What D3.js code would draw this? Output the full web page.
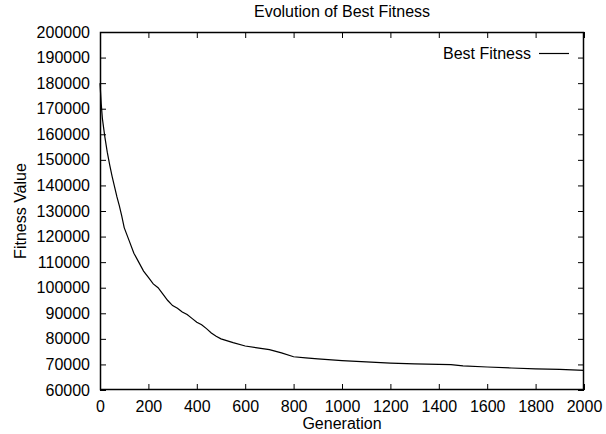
<!DOCTYPE html>
<html>
<head>
<meta charset="utf-8">
<script src="https://cdn.jsdelivr.net/npm/d3@7"></script>
<style>
  html, body { margin: 0; padding: 0; background: #fff; }
  svg { display: block; }
  text { font-family: "Liberation Sans", Arial, Helvetica, sans-serif; fill: #000; }
</style>
</head>
<body>
<div id="chart"></div>
<script>
// Best fitness per generation
var generations = [0, 5, 10, 20, 30, 40, 50, 60, 70, 80, 90, 100, 120, 140, 160, 180, 200,
  220, 240, 260, 280, 300, 320, 340, 360, 380, 400, 420, 440, 460, 480, 500, 550, 600,
  650, 700, 750, 800, 850, 900, 1000, 1100, 1200, 1300, 1400, 1450, 1500, 1600, 1700,
  1800, 1900, 2000];
var bestFitness = [180000, 172000, 166000, 159000, 153000, 148000, 143500, 139500, 135500,
  132000, 128000, 123500, 118500, 113500, 110000, 106500, 104000, 101500, 100000, 97500,
  95000, 93000, 92000, 90500, 89500, 88000, 86500, 85500, 84000, 82300, 81000, 80000,
  78500, 77200, 76500, 75800, 74500, 73000, 72600, 72200, 71500, 71000, 70500, 70200,
  70000, 69900, 69400, 69000, 68600, 68300, 68100, 67700];

var xTicks = [0, 200, 400, 600, 800, 1000, 1200, 1400, 1600, 1800, 2000];
var yTicks = [60000, 70000, 80000, 90000, 100000, 110000, 120000, 130000, 140000,
  150000, 160000, 170000, 180000, 190000, 200000];

var width = 606, height = 434;
var margin = { left: 100, right: 22, top: 32, bottom: 44 };
var plotW = width - margin.left - margin.right;
var plotH = height - margin.top - margin.bottom;

var svg = d3.select("#chart").append("svg")
  .attr("width", width)
  .attr("height", height);

var x = d3.scaleLinear().domain([0, 2000]).range([margin.left, margin.left + plotW]);
var y = d3.scaleLinear().domain([60000, 200000]).range([margin.top + plotH, margin.top]);

var fontSize = "16px";

// bottom axis with labels, ticks pointing inward
var xAxis = svg.append("g")
  .attr("transform", "translate(0," + (margin.top + plotH) + ")")
  .call(d3.axisBottom(x).tickValues(xTicks).tickFormat(d3.format("d"))
    .tickSizeInner(-6).tickSizeOuter(0).tickPadding(11));
// top mirror ticks
var xTop = svg.append("g")
  .attr("transform", "translate(0," + margin.top + ")")
  .call(d3.axisTop(x).tickValues(xTicks).tickFormat("")
    .tickSizeInner(-6).tickSizeOuter(0));

var yAxis = svg.append("g")
  .attr("transform", "translate(" + margin.left + ",0)")
  .call(d3.axisLeft(y).tickValues(yTicks).tickFormat(d3.format("d"))
    .tickSizeInner(-6).tickSizeOuter(0).tickPadding(10));
var yRight = svg.append("g")
  .attr("transform", "translate(" + (margin.left + plotW) + ",0)")
  .call(d3.axisRight(y).tickValues(yTicks).tickFormat("")
    .tickSizeInner(-6).tickSizeOuter(0));

[xAxis, xTop, yAxis, yRight].forEach(function(g) {
  g.select(".domain").remove();
  g.selectAll("line").attr("stroke", "#000").attr("stroke-width", 1);
  g.selectAll("text").attr("font-size", fontSize)
    .attr("font-family", "'Liberation Sans', Arial, Helvetica, sans-serif")
    .attr("fill", "#000");
});

// the curve
var line = d3.line()
  .x(function(d, i) { return x(generations[i]); })
  .y(function(d) { return y(d); });

svg.append("path")
  .datum(bestFitness)
  .attr("d", line)
  .attr("fill", "none")
  .attr("stroke", "#000")
  .attr("stroke-width", 1.2);

// border
svg.append("rect")
  .attr("x", margin.left + 0.5)
  .attr("y", margin.top + 0.5)
  .attr("width", plotW - 1)
  .attr("height", plotH - 1)
  .attr("fill", "none")
  .attr("stroke", "#000")
  .attr("stroke-width", 1.5);

// title and axis labels
svg.append("text")
  .attr("x", margin.left + plotW / 2)
  .attr("y", 17)
  .attr("text-anchor", "middle")
  .attr("font-size", fontSize)
  .text("Evolution of Best Fitness");

svg.append("text")
  .attr("x", margin.left + plotW / 2)
  .attr("y", 429)
  .attr("text-anchor", "middle")
  .attr("font-size", fontSize)
  .text("Generation");

svg.append("text")
  .attr("transform", "translate(26," + (margin.top + plotH / 2) + ") rotate(-90)")
  .attr("text-anchor", "middle")
  .attr("font-size", fontSize)
  .text("Fitness Value");

// legend
var legY = 53;
svg.append("text")
  .attr("x", 531)
  .attr("y", legY)
  .attr("dy", "0.35em")
  .attr("text-anchor", "end")
  .attr("font-size", fontSize)
  .text("Best Fitness");
svg.append("line")
  .attr("x1", 539).attr("x2", 569)
  .attr("y1", legY + 0.5).attr("y2", legY + 0.5)
  .attr("stroke", "#000")
  .attr("stroke-width", 1.2);
</script>
</body>
</html>
